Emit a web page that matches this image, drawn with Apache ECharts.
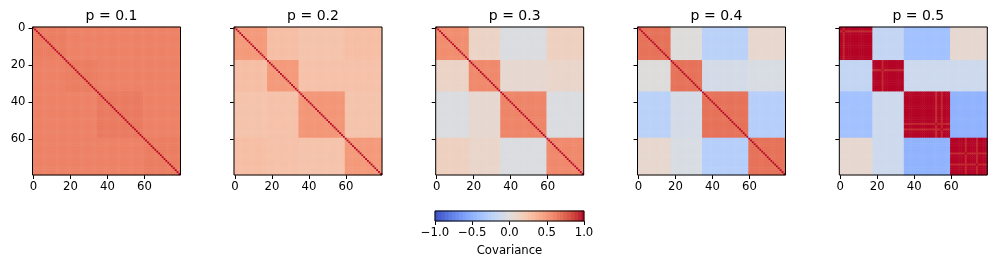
<!DOCTYPE html>
<html><head><meta charset="utf-8">
<script src="https://cdn.jsdelivr.net/npm/echarts@6/dist/echarts.min.js"></script>
<style>html,body{margin:0;padding:0;background:#fff}#c{width:996px;height:264px}</style>
</head><body><div id="c"></div>
<script>
// ---- data ----
var titles = ['p = 0.1', 'p = 0.2', 'p = 0.3', 'p = 0.4', 'p = 0.5'];
var n = 80;
var blockEdges = [0, 18, 35, 60, 80];
var tickLabels = ['0', '20', '40', '60'];
var diagValue = 1.0;
// block-average covariance (4 blocks x 4 blocks) for each panel
var blocksP1 = [[0.63, 0.61, 0.61, 0.61],[0.61, 0.63, 0.61, 0.61],[0.61, 0.61, 0.64, 0.61],[0.61, 0.61, 0.61, 0.63]];
var blocksP2 = [[0.50, 0.29, 0.26, 0.29],[0.29, 0.50, 0.27, 0.27],[0.26, 0.27, 0.52, 0.26],[0.29, 0.27, 0.26, 0.50]];
var blocksP3 = [[0.56, 0.12, -0.02, 0.15],[0.12, 0.58, 0.07, 0.10],[-0.02, 0.07, 0.60, -0.02],[0.15, 0.10, -0.02, 0.58]];
var blocksP4 = [[0.68, 0.01, -0.24, 0.08],[0.01, 0.68, -0.07, -0.04],[-0.24, -0.07, 0.68, -0.26],[0.08, -0.04, -0.26, 0.68]];
var blocksP5 = [[1.00, -0.18, -0.38, 0.07],[-0.18, 1.00, -0.12, -0.12],[-0.38, -0.12, 1.00, -0.48],[0.07, -0.12, -0.48, 1.00]];
var panelBlocks = [blocksP1, blocksP2, blocksP3, blocksP4, blocksP5];
// slightly lighter rows/cols inside diagonal blocks of p = 0.5
var stripesP5 = [2, 23, 52, 55, 68, 74];
var stripeValue = 0.93;
var cbTicks = [-1, -0.5, 0, 0.5, 1];
// coolwarm colormap
var coolwarm = ['#3b4cc0','#445acc','#4d68d7','#5775e1','#6282ea','#6c8ef1','#779af7','#82a5fb','#8db0fe','#98b9ff','#a3c2ff','#aec9fd','#b8d0f9','#c2d5f4','#ccd9ee','#d5dbe6','#dddddd','#e5d8d1','#ecd3c5','#f1ccb9','#f5c4ad','#f7bba0','#f7b194','#f7a687','#f49a7b','#f18d6f','#ec7f63','#e57058','#de604d','#d55042','#cb3e38','#c0282f','#b40426'];

// ---- build ----
function blockOf(i){ for (var b=0;b<4;b++){ if (i>=blockEdges[b] && i<blockEdges[b+1]) return b; } return 3; }
var cats = []; for (var i=0;i<n;i++) cats.push(String(i));
var lefts = [32.5, 234, 435.7, 637.5, 839.3];
var size = 148, top0 = 27;
var grids=[], xAxes=[], yAxes=[], series=[];
var tickFn = function(idx){ return idx % 20 === 0; };
var axisFont = {fontFamily:'DejaVu Sans', fontSize:11.7, color:'#000'};
for (var p=0;p<5;p++){
  grids.push({left:lefts[p], top:top0, width:size, height:size, show:true, z:5, borderColor:'#000', borderWidth:1, backgroundColor:'transparent'});
  xAxes.push({type:'category', gridIndex:p, data:cats, position:'bottom', axisLine:{show:false},
    axisTick:{show:true, alignWithLabel:true, interval:tickFn, length:4, lineStyle:{color:'#000', width:1}},
    axisLabel:Object.assign({interval:tickFn, margin:6}, axisFont), splitLine:{show:false}});
  yAxes.push({type:'category', gridIndex:p, data:cats, inverse:true, axisLine:{show:false},
    axisTick:{show:true, alignWithLabel:true, interval:tickFn, length:4, lineStyle:{color:'#000', width:1}},
    axisLabel:Object.assign({interval:tickFn, margin:7, show:p===0}, axisFont), splitLine:{show:false}});
  var M = panelBlocks[p], data=[];
  for (var r=0;r<n;r++){ for (var c=0;c<n;c++){
    var v;
    if (r===c) v = diagValue;
    else {
      var br=blockOf(r), bc=blockOf(c);
      v = M[br][bc];
      if (p===4 && br===bc && (stripesP5.indexOf(r)>=0 || stripesP5.indexOf(c)>=0)) v = stripeValue;
    }
    data.push([c, r, v]);
  }}
  series.push({type:'heatmap', xAxisIndex:p, yAxisIndex:p, data:data, progressive:0, emphasis:{disabled:true}, itemStyle:{borderWidth:0}});
}
// colorbar grid
var cbN = 256, cbCats=[], cbData=[];
for (var k=0;k<cbN;k++){ cbCats.push(String(k)); cbData.push([k,0,-1+(k+0.5)*2/cbN]); }
grids.push({left:435, top:211, width:149, height:10, show:true, z:5, borderColor:'#000', borderWidth:1, backgroundColor:'transparent'});
xAxes.push({type:'category', gridIndex:5, data:cbCats, show:false});
xAxes.push({type:'value', gridIndex:5, min:-1, max:1, interval:0.5, position:'bottom',
  axisLine:{show:false}, splitLine:{show:false},
  axisTick:{show:true, length:4, lineStyle:{color:'#000'}},
  axisLabel:Object.assign({margin:6, formatter:function(v){return v.toFixed(1).replace('-','\u2212');}}, axisFont),
  name:'Covariance', nameLocation:'middle', nameGap:24, nameTextStyle:axisFont});
yAxes.push({type:'category', gridIndex:5, data:['0'], show:false});
series.push({type:'heatmap', xAxisIndex:5, yAxisIndex:5, data:cbData, progressive:0, emphasis:{disabled:true}});

var titleObjs = titles.map(function(t,p){ return {text:t, left:lefts[p]+size/2, top:4, textAlign:'center',
  textStyle:{fontFamily:'DejaVu Sans', fontSize:14, fontWeight:'normal', color:'#000'}}; });

var chart = echarts.init(document.getElementById('c'), null, {renderer:'canvas'});
chart.setOption({
  animation:false,
  title:titleObjs,
  grid:grids, xAxis:xAxes, yAxis:yAxes,
  visualMap:{type:'continuous', min:-1, max:1, show:false, seriesIndex:[0,1,2,3,4,5], inRange:{color:coolwarm}},
  series:series
});
</script></body></html>
